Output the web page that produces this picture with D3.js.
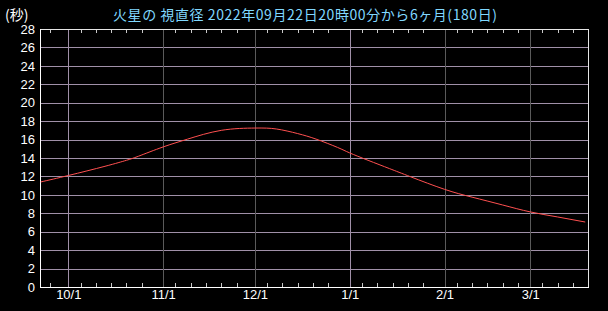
<!DOCTYPE html>
<html>
<head>
<meta charset="utf-8">
<script src="https://cdn.jsdelivr.net/npm/d3@7"></script>
<style>
  body { margin: 0; background: #000; }
  svg { display: block; }
  text { font-family: "Liberation Sans", "DejaVu Sans", sans-serif; }
</style>
</head>
<body>
<div id="container"></div>
<script>
let w = 608;
let h = 311;

// data (angular diameter of Mars, arcsec)
let dates = ["2022-09-22","2022-10-01","2022-10-13","2022-10-20","2022-10-24","2022-11-01",
  "2022-11-09","2022-11-20","2022-12-01","2022-12-08","2022-12-15","2022-12-21","2022-12-28",
  "2023-01-01","2023-01-07","2023-01-14","2023-01-21","2023-02-01","2023-02-10","2023-02-20",
  "2023-03-01","2023-03-10","2023-03-19"];
let diameters = [11.4,12.1,13.1,13.75,14.2,15.2,
  16.05,17.0,17.25,17.15,16.65,16.05,15.15,
  14.55,13.75,12.85,11.95,10.6,9.75,8.9,
  8.15,7.6,7.05];
let yTicks = [0,2,4,6,8,10,12,14,16,18,20,22,24,26,28];
let monthTicks = ["2022-10-01","2022-11-01","2022-12-01","2023-01-01","2023-02-01","2023-03-01"];
let monthLabels = ["10/1","11/1","12/1","1/1","2/1","3/1"];
let lightMonths = ["2022-10-01","2023-01-01"];
let minorDays = [5,10,15,20,25];

let titleText = "火星の 視直径  2022年09月22日20時00分から6ヶ月(180日)";
let unitText = "(秒)";

let parse = d3.timeParse("%Y-%m-%d");
let data = dates.map((d, i) => ({date: parse(d), value: diameters[i]}));

let pLeft = 40, pRight = 588, pTop = 29, pBottom = 287;

let viz = d3.select("#container")
  .append("svg")
    .attr("width", w)
    .attr("height", h)
    .style("background", "#000");

let xScale = d3.scaleTime()
  .domain([new Date(2022, 8, 21, 18), new Date(2023, 2, 19, 21, 30)])
  .range([pLeft, pRight]);
let yScale = d3.scaleLinear().domain([0, 28]).range([pBottom, pTop]);

// horizontal grid
let yGrid = viz.append("g")
  .attr("transform", "translate(" + pLeft + ",0)")
  .call(d3.axisLeft(yScale).tickValues(yTicks).tickSize(-(pRight - pLeft)).tickFormat(""));
yGrid.select(".domain").remove();
yGrid.selectAll("line").attr("stroke", "#a090a8").attr("shape-rendering", "crispEdges");

// vertical grid at month starts
let monthDates = monthTicks.map(parse);
viz.append("g").selectAll("line")
  .data(monthDates)
  .join("line")
    .attr("x1", d => Math.round(xScale(d)) + 0.5)
    .attr("x2", d => Math.round(xScale(d)) + 0.5)
    .attr("y1", pTop)
    .attr("y2", pBottom)
    .attr("stroke", d => lightMonths.includes(d3.timeFormat("%Y-%m-%d")(d)) ? "#a090a8" : "#5a5a5a")
    .attr("shape-rendering", "crispEdges");

// minor ticks every 5 days
let minorDates = [];
d3.timeMonth.range(new Date(2022, 8, 1), new Date(2023, 3, 1)).forEach(m => {
  minorDays.forEach(dd => {
    let t = new Date(m.getFullYear(), m.getMonth(), dd);
    if (t >= xScale.domain()[0] && t <= xScale.domain()[1]) minorDates.push(t);
  });
});
let xBottom = viz.append("g")
  .attr("transform", "translate(0," + pBottom + ")")
  .call(d3.axisBottom(xScale).tickValues(minorDates).tickSize(-4).tickFormat(""));
xBottom.select(".domain").remove();
xBottom.selectAll("line").attr("stroke", "#c8c8c8").attr("shape-rendering", "crispEdges");
let xTop = viz.append("g")
  .attr("transform", "translate(0," + pTop + ")")
  .call(d3.axisTop(xScale).tickValues(minorDates).tickSize(-4).tickFormat(""));
xTop.select(".domain").remove();
xTop.selectAll("line").attr("stroke", "#c8c8c8").attr("shape-rendering", "crispEdges");

// frame
viz.append("rect")
  .attr("x", pLeft + 0.5).attr("y", pTop + 0.5)
  .attr("width", pRight - pLeft).attr("height", pBottom - pTop)
  .attr("fill", "none").attr("stroke", "#e6e6e6")
  .attr("shape-rendering", "crispEdges");
viz.append("path")
  .attr("d", "M" + (pLeft + 0.5) + "," + pTop + "V" + (pBottom + 0.5) + "H" + (pRight + 1))
  .attr("fill", "none").attr("stroke", "#fff")
  .attr("shape-rendering", "crispEdges");

// y labels
let yAxis = viz.append("g")
  .attr("transform", "translate(" + pLeft + ",0)")
  .call(d3.axisLeft(yScale).tickValues(yTicks).tickSize(0).tickPadding(5));
yAxis.select(".domain").remove();
yAxis.selectAll("text")
  .attr("fill", "#fff")
  .style("font-size", "13px");

// x labels
let xAxis = viz.append("g")
  .attr("transform", "translate(0," + pBottom + ")")
  .call(d3.axisBottom(xScale).tickValues(monthDates).tickSize(0).tickPadding(3)
    .tickFormat((d, i) => monthLabels[i]));
xAxis.select(".domain").remove();
xAxis.selectAll("text")
  .attr("fill", "#fff")
  .style("font-size", "13px");

// curve
let line = d3.line()
  .x(d => xScale(d.date))
  .y(d => yScale(d.value))
  .curve(d3.curveNatural);
viz.append("path")
  .datum(data)
  .attr("d", line)
  .attr("fill", "none")
  .attr("stroke", "#ff5050")
  .attr("stroke-width", 1);

// titles
viz.append("text")
  .attr("x", 113).attr("y", 20)
  .attr("textLength", 384)
  .attr("lengthAdjust", "spacing")
  .attr("fill", "#80d8ff")
  .style("font-family", "'Noto Sans CJK JP', sans-serif")
  .style("font-size", "14px")
  .text(titleText);
viz.append("text")
  .attr("x", 5).attr("y", 20)
  .attr("fill", "#fff")
  .style("font-family", "'Noto Sans CJK JP', sans-serif")
  .style("font-size", "14px")
  .text(unitText);
</script>
</body>
</html>
